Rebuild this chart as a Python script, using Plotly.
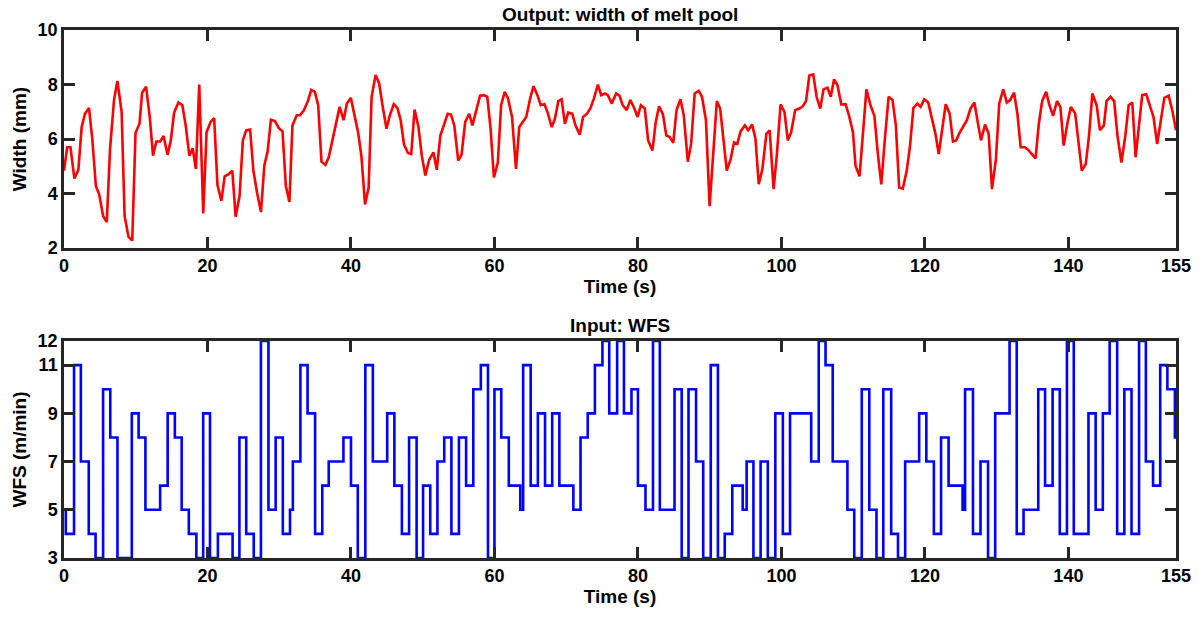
import plotly.graph_objects as go

# ---- Output: melt pool width ----
t_width = [0, 0.44, 0.9, 1.45, 2.0, 2.46, 2.92, 3.48, 3.94, 4.44, 4.9, 5.46, 5.96, 6.42, 6.97, 7.44, 8.03, 8.45, 9.0, 9.51,
           9.97, 10.52, 10.89, 11.44, 11.95, 12.41, 12.87, 13.42, 13.88, 14.43, 14.89, 15.35, 15.95, 16.5, 16.96, 17.47, 17.93, 18.39, 18.85, 19.41,
           19.87, 20.42, 20.93, 21.39, 21.94, 22.4, 22.95, 23.46, 23.92, 24.47, 24.93, 25.39, 25.94, 26.4, 26.91, 27.46, 27.92, 28.38, 28.84, 29.4,
           29.95, 30.46, 30.92, 31.42, 31.84, 32.44, 32.9, 33.45, 34.0, 34.46, 34.97, 35.43, 35.89, 36.44, 36.9, 37.45, 37.96, 38.42, 38.97, 39.43,
           39.98, 40.44, 40.99, 41.45, 41.96, 42.46, 42.88, 43.43, 43.93, 44.39, 44.95, 45.4, 45.96, 46.47, 46.93, 47.39, 47.94, 48.4, 48.86, 49.41,
           49.87, 50.37, 50.9, 51.5, 51.96, 52.46, 52.93, 53.48, 53.94, 54.4, 54.95, 55.41, 55.92, 56.47, 56.93, 57.48, 57.99, 58.54, 59.0, 59.46,
           59.92, 60.47, 60.93, 61.43, 61.89, 62.45, 63.0, 63.46, 63.92, 64.43, 64.98, 65.44, 65.99, 66.45, 66.96, 67.42, 67.98, 68.44, 68.9, 69.36,
           69.82, 70.28, 70.83, 71.29, 71.89, 72.35, 72.9, 73.36, 73.87, 74.42, 74.88, 75.4, 75.81, 76.36, 76.96, 77.42, 77.88, 78.43, 78.94, 79.4,
           79.95, 80.41, 80.96, 81.42, 82.02, 82.48, 82.94, 83.49, 83.95, 84.42, 84.92, 85.38, 85.93, 86.39, 86.95, 87.41, 87.91, 88.47, 88.93, 89.48,
           89.99, 90.45, 91.0, 91.46, 91.92, 92.38, 92.93, 93.39, 93.85, 94.31, 94.91, 95.37, 95.92, 96.38, 96.84, 97.35, 97.9, 98.36, 98.91, 99.37,
           99.88, 100.43, 100.89, 101.36, 101.91, 102.51, 102.97, 103.43, 103.89, 104.44, 104.9, 105.41, 105.87, 106.42, 106.88, 107.34, 107.8, 108.35, 108.95, 109.41,
           109.97, 110.33, 110.89, 111.39, 111.85, 112.41, 112.96, 113.42, 113.92, 114.38, 114.94, 115.49, 115.95, 116.41, 116.92, 117.47, 117.93, 118.39, 118.94, 119.4,
           119.91, 120.46, 120.92, 121.47, 121.93, 122.39, 122.9, 123.45, 123.91, 124.37, 124.83, 125.29, 125.85, 126.35, 126.9, 127.36, 127.82, 128.38, 128.89, 129.35,
           129.9, 130.36, 130.92, 131.42, 131.88, 132.43, 132.89, 133.35, 133.91, 134.37, 134.87, 135.42, 135.88, 136.34, 136.9, 137.36, 137.86, 138.42, 138.88, 139.34,
           139.89, 140.35, 140.95, 141.41, 141.87, 142.42, 142.88, 143.34, 143.94, 144.4, 144.95, 145.32, 145.87, 146.38, 146.84, 147.39, 147.94, 148.4, 148.91, 149.37,
           149.83, 150.29, 150.85, 151.31, 151.86, 152.37, 152.92, 153.38, 153.98, 154.53, 155.0]
width_mm = [4.84, 5.70, 5.70, 4.55, 4.87, 6.44, 6.93, 7.14, 6.01, 4.28, 3.97, 3.17, 2.95, 5.64, 7.43, 8.13, 7.0, 3.17, 2.41, 2.27,
            6.23, 6.56, 7.70, 7.92, 6.81, 5.39, 5.91, 5.91, 6.11, 5.42, 5.95, 6.97, 7.34, 7.24, 6.50, 5.39, 5.66, 4.90, 8.0, 3.27,
            6.25, 6.62, 6.77, 4.31, 3.73, 4.63, 4.71, 4.84, 3.15, 3.91, 5.95, 6.32, 6.35, 4.84, 4.03, 3.32, 5.02, 5.54, 6.71, 6.66,
            6.40, 6.28, 4.28, 3.69, 6.50, 6.87, 6.87, 7.06, 7.39, 7.80, 7.73, 7.24, 5.17, 5.05, 5.33, 6.03, 6.62, 7.18, 6.69, 7.30,
            7.51, 6.93, 6.25, 5.39, 3.60, 4.22, 7.55, 8.35, 8.04, 7.24, 6.38, 6.85, 7.28, 7.14, 6.69, 5.80, 5.49, 5.45, 7.08, 6.44,
            5.39, 4.66, 5.24, 5.51, 4.87, 6.13, 6.50, 6.93, 6.90, 6.50, 5.21, 5.42, 6.62, 6.93, 6.50, 7.12, 7.59, 7.61, 7.55, 6.38,
            4.59, 5.14, 7.24, 7.73, 7.49, 6.81, 4.90, 6.44, 6.62, 6.81, 7.49, 7.94, 7.61, 7.24, 7.28, 6.97, 6.44, 6.75, 7.39, 7.46,
            6.56, 6.97, 6.93, 6.50, 6.16, 6.81, 6.93, 7.12, 7.49, 8.0, 7.61, 7.67, 7.61, 7.30, 7.67, 7.59, 7.24, 7.06, 7.43, 7.18,
            6.81, 7.24, 7.12, 5.95, 5.58, 6.62, 7.20, 6.90, 6.13, 6.07, 5.86, 7.06, 7.46, 6.87, 5.17, 5.82, 7.67, 7.77, 7.55, 6.69,
            3.54, 5.45, 7.39, 7.12, 6.07, 4.84, 5.27, 5.88, 5.82, 6.28, 6.50, 6.32, 6.53, 6.01, 4.34, 4.90, 6.19, 6.32, 4.16, 5.45,
            7.27, 6.99, 5.95, 6.25, 7.06, 7.12, 7.20, 7.39, 8.33, 8.37, 7.55, 7.12, 7.82, 7.88, 7.55, 8.19, 7.98, 7.27, 7.27, 6.87,
            6.25, 5.02, 4.63, 6.13, 7.82, 7.24, 6.85, 5.51, 4.34, 5.88, 7.55, 7.43, 6.50, 4.22, 4.18, 4.84, 5.76, 7.14, 7.30, 7.18,
            7.46, 7.34, 6.81, 6.19, 5.45, 6.38, 7.28, 6.93, 5.91, 5.95, 6.23, 6.44, 6.69, 7.12, 7.34, 6.62, 5.95, 6.53, 6.19, 4.16,
            5.27, 7.30, 7.82, 7.34, 7.43, 7.70, 6.93, 5.70, 5.70, 5.61, 5.45, 5.29, 6.56, 7.39, 7.73, 7.24, 6.85, 7.39, 7.18, 5.76,
            6.62, 7.18, 6.93, 5.95, 4.84, 5.08, 6.13, 7.67, 7.24, 6.32, 6.50, 7.39, 7.55, 7.39, 6.13, 5.14, 6.13, 7.24, 7.34, 5.33,
            6.50, 7.61, 7.64, 7.24, 6.81, 5.82, 6.71, 7.51, 7.59, 6.99, 6.32]

# ---- Input: WFS step changes (start time of each level) ----
t_wfs = [0, 0.25, 1.4, 2.35, 3.45, 4.4, 5.45, 6.45, 7.45, 9.45, 10.4, 11.35, 13.4, 14.45, 15.45, 16.4, 17.4, 18.45, 19.4, 20.35,
         21.45, 23.5, 24.45, 25.4, 26.45, 27.45, 28.5, 29.5, 30.5, 31.5, 31.9, 32.95, 33.95, 35.0, 36.0, 36.9, 38.95, 40.0, 40.95, 42.0,
         43.05, 45.05, 46.05, 47.1, 48.1, 49.15, 50.05, 51.05, 52.05, 53.0, 54.0, 55.05, 56.05, 57.05, 58.1, 59.1, 60.0, 60.95, 62.0, 63.6,
         64.0, 65.05, 66.05, 67.05, 68.05, 69.05, 71.0, 72.0, 73.0, 74.0, 75.05, 76.0, 77.1, 78.05, 79.1, 80.0, 81.05, 82.1, 83.05, 85.1,
         86.1, 87.05, 88.1, 89.1, 90.15, 91.15, 92.1, 93.15, 94.6, 95.15, 96.1, 97.1, 98.1, 99.15, 100.2, 101.2, 104.15, 105.2, 106.15, 107.15,
         109.2, 110.15, 111.2, 112.25, 113.25, 114.2, 115.3, 116.25, 117.25, 119.2, 120.2, 121.25, 122.25, 123.3, 125.25, 125.6, 126.7, 127.75, 128.8, 129.8,
         131.8, 132.8, 133.75, 135.8, 136.75, 137.8, 138.8, 139.8, 140.75, 142.8, 143.8, 144.8, 145.75, 146.8, 147.8, 148.8, 149.85, 150.8, 151.8, 152.8,
         153.8, 154.85, 155.0]
wfs = [5, 4, 11, 7, 4, 3, 10, 8, 3, 9, 8, 5, 6, 9, 8, 5, 4, 3, 9, 3,
       4, 3, 8, 4, 3, 12, 5, 8, 4, 5, 7, 11, 9, 4, 6, 7, 8, 6, 3, 11,
       7, 9, 6, 4, 8, 3, 6, 4, 7, 8, 4, 8, 6, 10, 11, 3, 10, 8, 6, 5,
       11, 6, 9, 6, 9, 6, 5, 8, 9, 11, 12, 9, 12, 9, 10, 6, 5, 12, 5, 10,
       3, 10, 7, 3, 11, 3, 4, 6, 5, 7, 3, 7, 3, 9, 4, 9, 7, 12, 11, 7,
       5, 3, 10, 5, 3, 10, 4, 3, 7, 9, 7, 4, 8, 6, 5, 10, 4, 7, 3, 9,
       12, 4, 5, 10, 6, 10, 4, 12, 4, 9, 5, 9, 12, 4, 10, 4, 12, 7, 6, 11,
       10, 8, 8]

x_ticks = [0, 20, 40, 60, 80, 100, 120, 140, 155]
y1_ticks = [2, 4, 6, 8, 10]
y2_ticks = [3, 5, 7, 9, 11, 12]

FONT = "Liberation Sans, Arial, sans-serif"
AXC = "#262626"

fig = go.Figure()
fig.add_trace(go.Scatter(x=t_width, y=width_mm, mode="lines",
                         line=dict(color="#FF0000", width=2.6),
                         xaxis="x", yaxis="y", showlegend=False, cliponaxis=False))
fig.add_trace(go.Scatter(x=t_wfs, y=wfs, mode="lines",
                         line=dict(color="#0000FF", width=2.6, shape="hv"),
                         xaxis="x2", yaxis="y2", showlegend=False, cliponaxis=False))

common = dict(showline=True, linewidth=2.5, linecolor=AXC, mirror="ticks",
              ticks="inside", ticklen=11, tickwidth=2.5, tickcolor=AXC,
              showgrid=False, zeroline=False,
              tickfont=dict(family=FONT, size=18, color="black", weight="bold"))
title_font = dict(family=FONT, size=19, color="black", weight="bold")

fig.update_layout(
    width=1203, height=623,
    margin=dict(l=64, r=18, t=30, b=65),
    paper_bgcolor="white", plot_bgcolor="white",
    xaxis=dict(domain=[0, 1], anchor="y", range=[0, 155], tickvals=x_ticks,
               title=dict(text="Time (s)", font=title_font, standoff=2), **common),
    yaxis=dict(domain=[0.587, 1], anchor="x", range=[2, 10], tickvals=y1_ticks,
               title=dict(text="Width (mm)", font=title_font, standoff=6), **common),
    xaxis2=dict(domain=[0, 1], anchor="y2", range=[0, 155], tickvals=x_ticks,
                title=dict(text="Time (s)", font=title_font, standoff=2), **common),
    yaxis2=dict(domain=[0, 0.411], anchor="x2", range=[3, 12], tickvals=y2_ticks,
                title=dict(text="WFS (m/min)", font=title_font, standoff=6), **common),
    annotations=[
        dict(text="Output: width of melt pool", xref="paper", yref="paper", x=0.5, y=1,
             xanchor="center", yanchor="bottom", yshift=3, showarrow=False, font=title_font),
        dict(text="Input: WFS", xref="paper", yref="paper", x=0.5, y=0.411,
             xanchor="center", yanchor="bottom", yshift=3, showarrow=False, font=title_font),
    ],
)

fig.write_html("out.html")
